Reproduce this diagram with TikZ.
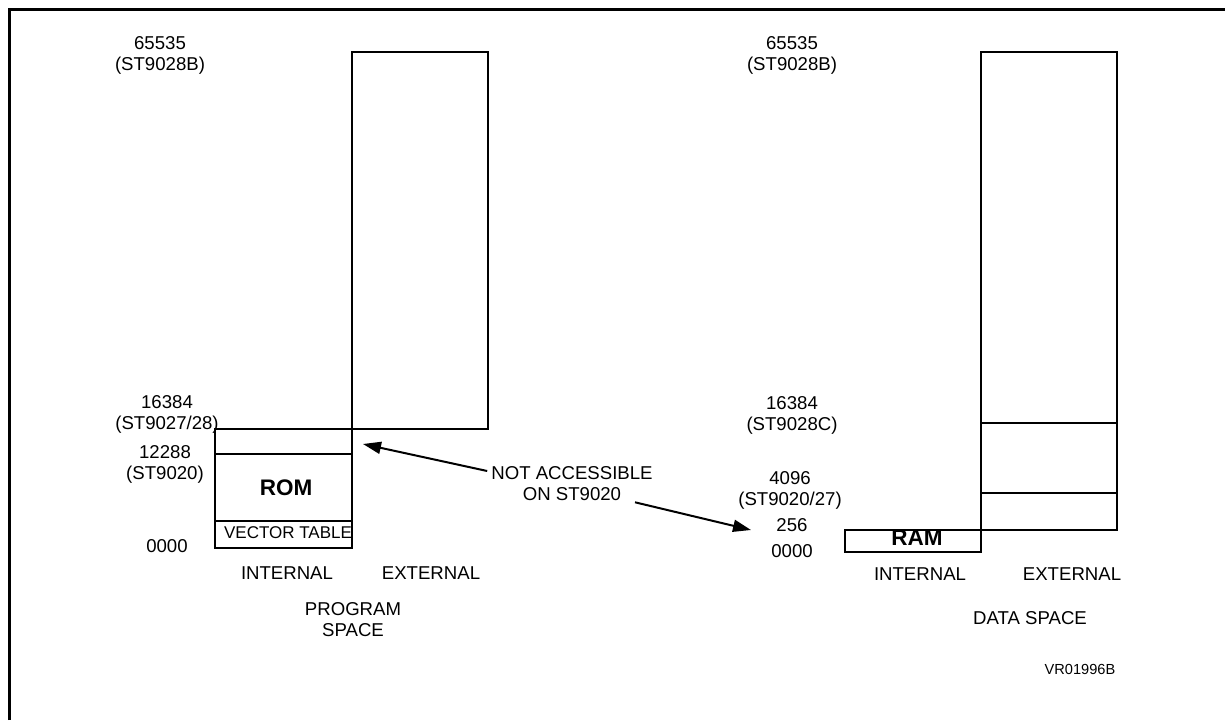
\documentclass[tikz,border=0pt]{standalone}
\usepackage{fontspec}
\setmainfont{Liberation Sans}
\usetikzlibrary{
  arrows.meta,
  positioning,
  calc
}
\tikzset{
  mmlabel/.style={font=\fontsize{18.6}{21}\selectfont, align=center, inner sep=0pt},
  mmbold/.style={font=\fontsize{22.5}{24}\selectfont\bfseries, inner sep=0pt},
  mmsmall/.style={font=\fontsize{17}{18}\selectfont, inner sep=0pt},
  mmtiny/.style={font=\fontsize{14.6}{16}\selectfont, inner sep=0pt},
  mapbox/.style={draw, line width=1.8pt},
  frameline/.style={line width=3pt},
  pointer/.style={-{Triangle[length=18pt, width=12pt]}, line width=2pt}
}

\begin{document}
\begin{tikzpicture}[x=1pt, y=-1pt]
  \useasboundingbox (0,0) rectangle (1225,720);
  \draw[frameline] (9,720) -- (9,9) -- (1225,9);

  % program space
  \draw[mapbox] (352,52) rectangle (488,429);
  \draw[mapbox] (215,429) rectangle (352,548);
  \draw[mapbox] (215,454) -- (352,454);
  \draw[mapbox] (215,521) -- (352,521);
  \node[mmbold] (rom) at (286,488) {ROM};
  \node[mmsmall] (vtab) at (288,533) {VECTOR TABLE};
  \node[mmlabel] (p65535) at (160,55) {65535\\(ST9028B)};
  \node[mmlabel] (p16384) at (167,414) {16384\\(ST9027/28)};
  \node[mmlabel] (p12288) at (165,464) {12288\\(ST9020)};
  \node[mmlabel] (p0000) at (167,546) {0000};
  \node[mmlabel] (pint) at (287,573) {INTERNAL};
  \node[mmlabel] (pext) at (431,573) {EXTERNAL};
  \node[mmlabel] (pspace) at (353,620) {PROGRAM\\SPACE};

  % data space
  \draw[mapbox] (981,52) rectangle (1117,530);
  \draw[mapbox] (981,423) -- (1117,423);
  \draw[mapbox] (981,493) -- (1117,493);
  \draw[mapbox] (845,530) rectangle (981,552);
  \node[mmbold] (ram) at (917,538) {RAM};
  \node[mmlabel] (d65535) at (792,55) {65535\\(ST9028B)};
  \node[mmlabel] (d16384) at (792,415) {16384\\(ST9028C)};
  \node[mmlabel] (d4096) at (790,490) {4096\\(ST9020/27)};
  \node[mmlabel] (d256) at (792,525) {256};
  \node[mmlabel] (d0000) at (792,551) {0000};
  \node[mmlabel] (dint) at (920,574) {INTERNAL};
  \node[mmlabel] (dext) at (1072,574) {EXTERNAL};
  \node[mmlabel] (dspace) at (1030,618) {DATA SPACE};
  \node[mmtiny] (ref) at (1080,669) {VR01996B};

  % not accessible note
  \node[mmlabel] (na) at (572,484) {NOT ACCESSIBLE\\ON ST9020};
  \coordinate (gap) at (363,444);
  \coordinate (ramtop) at (751,530);
  \draw[pointer] ([shift={(-4,-13)}]na.west) -- (gap);
  \draw[pointer] ([shift={(63,1)}]na.south) -- (ramtop);
\end{tikzpicture}
\end{document}
